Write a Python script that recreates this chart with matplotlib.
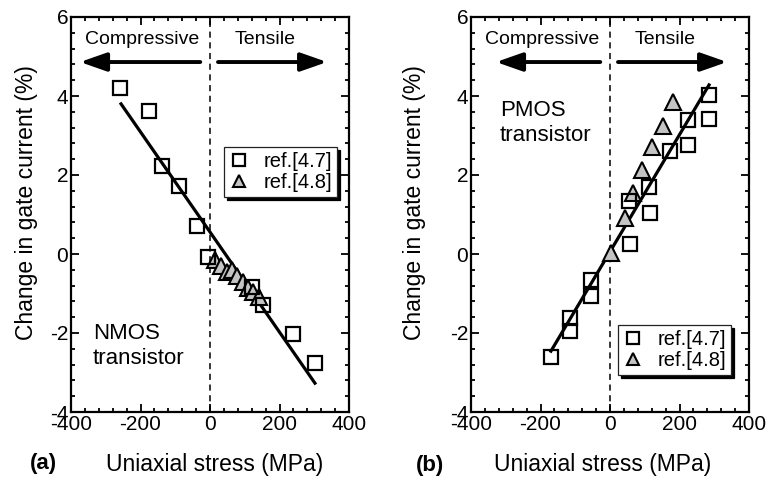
import matplotlib
matplotlib.use("Agg")
import matplotlib.pyplot as plt
from matplotlib.ticker import MultipleLocator

plt.rcParams['font.family'] = ['Liberation Sans', 'DejaVu Sans']
plt.rcParams['axes.unicode_minus'] = False

# (a) NMOS data
nmos_sq_x = [-259, -175, -138, -89, -37, -6, 121, 152, 239, 302]
nmos_sq_y = [4.2, 3.62, 2.23, 1.72, 0.71, -0.08, -0.84, -1.29, -2.02, -2.76]
nmos_tri_x = [15, 32, 48, 62, 78, 95, 110, 125, 140]
nmos_tri_y = [-0.15, -0.3, -0.45, -0.4, -0.55, -0.7, -0.85, -0.95, -1.1]
nmos_fit_x = [-256, 302]
nmos_fit_y = [3.8, -3.27]

# (b) PMOS data
pmos_sq_x = [-170, -115, -115, -55, -55, 58, 55, 115, 112, 173, 224, 224, 285, 285]
pmos_sq_y = [-2.6, -1.62, -1.95, -0.66, -1.06, 0.25, 1.33, 1.03, 1.69, 2.62, 2.77, 3.4, 3.42, 4.03]
pmos_tri_x = [3, 43, 66, 92, 121, 153, 181]
pmos_tri_y = [0.03, 0.91, 1.55, 2.13, 2.71, 3.24, 3.85]
pmos_fit_x = [-170, 285]
pmos_fit_y = [-2.46, 4.28]

fig = plt.figure(figsize=(7.68, 4.83), dpi=100)
ax1 = fig.add_axes([71/768, 71/483, 278/768, 395/483])
ax2 = fig.add_axes([471/768, 71/483, 278/768, 395/483])


def style_axes(ax):
    ax.set_xlim(-400, 400)
    ax.set_ylim(-4, 6)
    ax.xaxis.set_major_locator(MultipleLocator(200))
    ax.xaxis.set_minor_locator(MultipleLocator(40))
    ax.yaxis.set_major_locator(MultipleLocator(2))
    ax.yaxis.set_minor_locator(MultipleLocator(0.4))
    ax.tick_params(which='both', direction='in', top=True, right=True,
                   labelsize=15, width=1.3, pad=2)
    ax.tick_params(which='major', length=6)
    ax.tick_params(which='minor', length=3)
    for s in ax.spines.values():
        s.set_linewidth(1.6)
    ax.axvline(0, color='k', linestyle=(0, (4, 3)), linewidth=1.1, zorder=1)


def draw_panel(ax, sq_x, sq_y, tri_x, tri_y, fit_x, fit_y, arrow_left, leg_pos):
    style_axes(ax)
    ax.plot(fit_x, fit_y, color='k', linewidth=2.3, zorder=3)
    ax.plot(tri_x, tri_y, linestyle='none', marker='^', markersize=11,
            markerfacecolor='#c4c4c4', markeredgecolor='k', markeredgewidth=1.5,
            zorder=4, label='ref.[4.8]')
    ax.plot(sq_x, sq_y, linestyle='none', marker='s', markersize=10,
            markerfacecolor='none', markeredgecolor='k', markeredgewidth=1.6,
            zorder=5, label='ref.[4.7]')

    # compressive / tensile arrows
    ax.text(-196, 5.42, 'Compressive', ha='center', va='center', fontsize=14)
    ax.text(160, 5.42, 'Tensile', ha='center', va='center', fontsize=14)
    aprops = dict(arrowstyle='-|>,head_length=0.8,head_width=0.28',
                  mutation_scale=20, lw=2.8, color='k', shrinkA=0, shrinkB=0)
    ax.annotate('', xy=(arrow_left, 4.86), xytext=(-28, 4.86), arrowprops=aprops)
    ax.annotate('', xy=(337, 4.86), xytext=(23, 4.86), arrowprops=aprops)

    h, l = ax.get_legend_handles_labels()
    leg = ax.legend(h[::-1], l[::-1], loc='lower left', bbox_to_anchor=leg_pos,
                    fontsize=14.5, frameon=True, fancybox=False, borderpad=0.25,
                    handlelength=1.0, handletextpad=0.7, labelspacing=0.1,
                    borderaxespad=0,
                    shadow={'color': 'k', 'alpha': 1})
    leg.get_frame().set_edgecolor('#222222')
    leg.get_frame().set_linewidth(0.9)
    for lh in leg.legend_handles:
        lh.set_markersize(8.5)


draw_panel(ax1, nmos_sq_x, nmos_sq_y, nmos_tri_x, nmos_tri_y, nmos_fit_x, nmos_fit_y,
           -374, (0.55, 0.544))
draw_panel(ax2, pmos_sq_x, pmos_sq_y, pmos_tri_x, pmos_tri_y, pmos_fit_x, pmos_fit_y,
           -328, (0.529, 0.094))

ax1.text(-337, -1.75, 'NMOS\ntransistor', ha='left', va='top', fontsize=16, linespacing=1.25)
ax2.text(-317, 3.9, 'PMOS\ntransistor', ha='left', va='top', fontsize=16, linespacing=1.25)

# axis labels
fig.text(27/768, 1 - 203/483, 'Change in gate current (%)', rotation=90,
         ha='center', va='center', fontsize=16.5)
fig.text(415/768, 1 - 203/483, 'Change in gate current (%)', rotation=90,
         ha='center', va='center', fontsize=16.5)
fig.text(215/768, 1 - 464/483, 'Uniaxial stress (MPa)', ha='center', va='center', fontsize=16.5)
fig.text(603/768, 1 - 465/483, 'Uniaxial stress (MPa)', ha='center', va='center', fontsize=16.5)
fig.text(43/768, 1 - 463/483, '(a)', ha='center', va='center', fontsize=16, fontweight='bold')
fig.text(430/768, 1 - 465/483, '(b)', ha='center', va='center', fontsize=16, fontweight='bold')

fig.savefig('out.png', dpi=100)
